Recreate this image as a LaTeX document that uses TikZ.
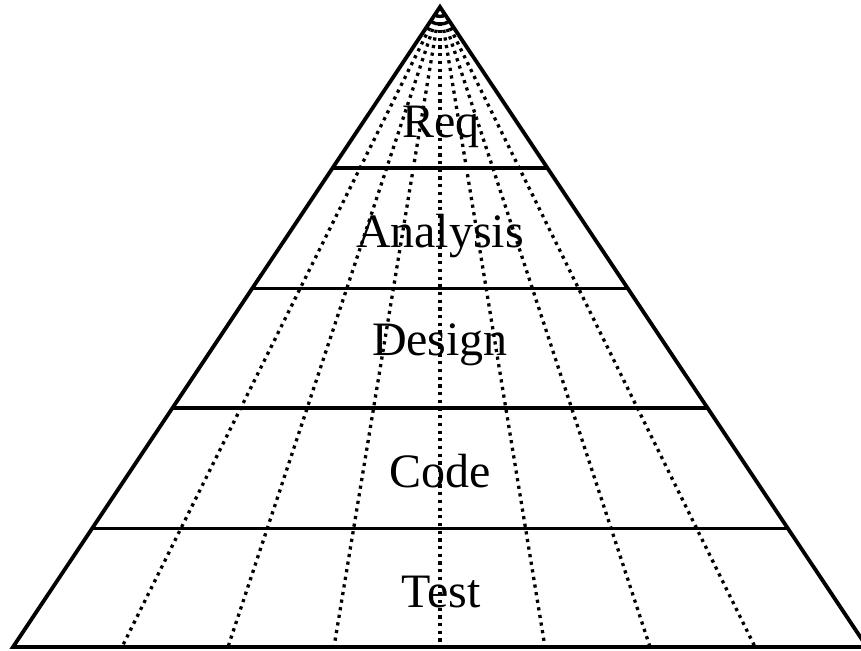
\documentclass[tikz,border=0pt]{standalone}
\usepackage{fontspec}
\setmainfont{Liberation Serif}
\usetikzlibrary{calc}
\tikzset{
  edge/.style={line width=3.8pt, line join=miter, black},
  tier/.style={line width=3.8pt, black},
  ray/.style={line width=3.3pt, dash pattern=on 3.2pt off 4.5pt, black},
  label/.style={anchor=base, font=\fontsize{48}{48}\selectfont, inner sep=0pt}
}
\begin{document}
\begin{tikzpicture}[x=1pt,y=-1pt]
\useasboundingbox (0,0) rectangle (861,650);
\clip (0,0) rectangle (861,650);
\coordinate (A) at (440,7);
\coordinate (L) at (13,647);
\coordinate (R) at (867,647);
% dotted rays
\foreach \i/\x in {1/122,2/228,3/334,4/440,5/545,6/650,7/755}{
  \coordinate (b\i) at (\x,647);
  \draw[ray] (A) -- (b\i);
}
% tier lines
\foreach \n/\t in {h1/0.2516,h2/0.4398,h3/0.6266,h4/0.8148}{
  \coordinate (\n l) at ($(A)!\t!(L)$);
  \coordinate (\n r) at ($(A)!\t!(R)$);
  \draw[tier] (\n l) -- (\n r);
}
% outline
\draw[edge] (L) -- (A) -- (R) -- cycle;
% labels
\node[label] (req) at (441,137) {Req};
\node[label] (ana) at (440,247) {Analysis};
\node[label] (des) at (440,355) {Design};
\node[label] (cod) at (440,487) {Code};
\node[label] (tst) at (441,607) {Test};
\end{tikzpicture}
\end{document}
